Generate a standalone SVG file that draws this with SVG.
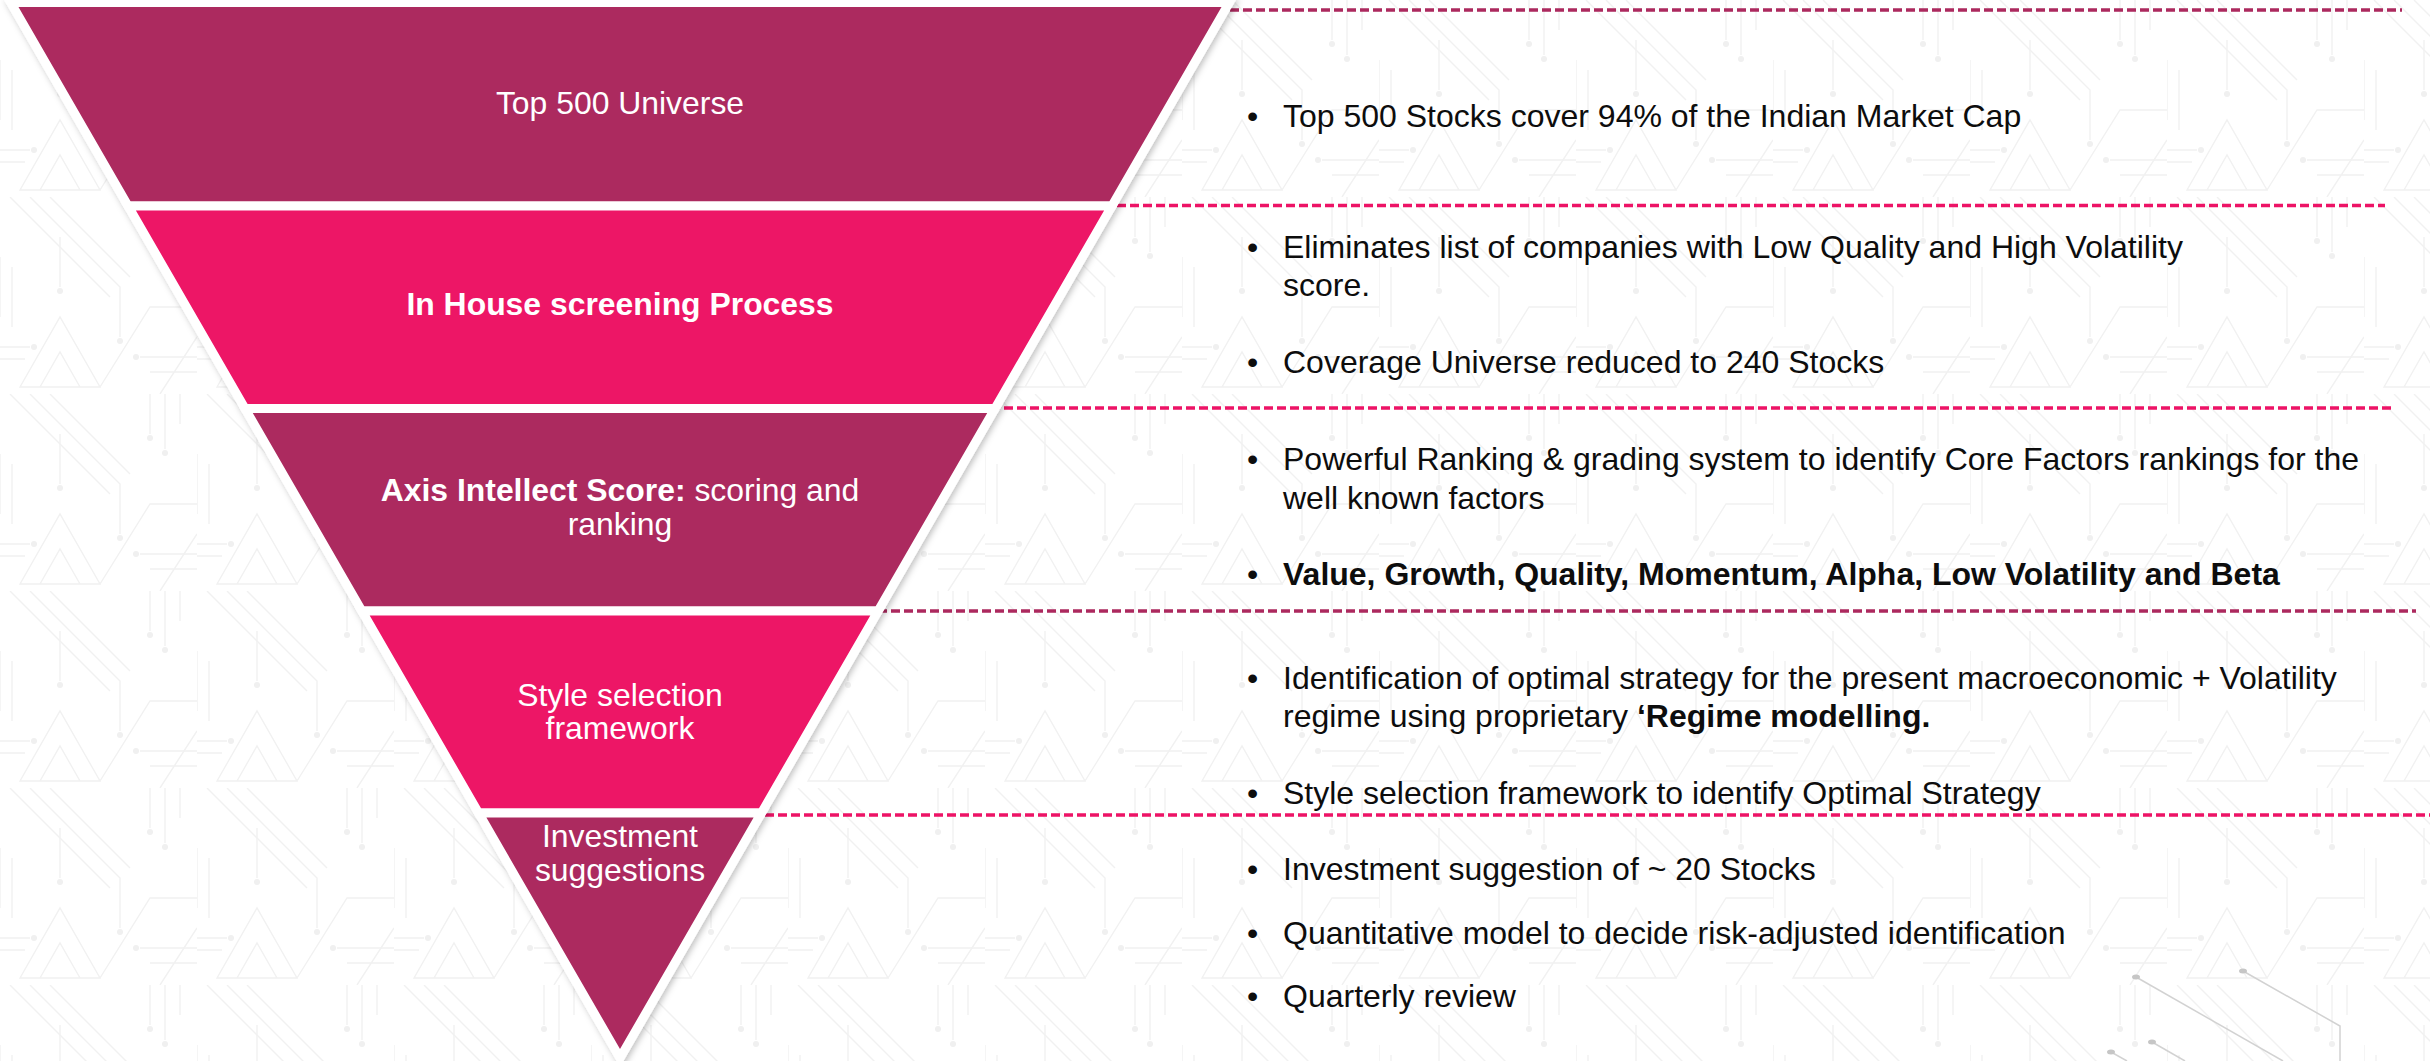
<svg xmlns="http://www.w3.org/2000/svg" width="2430" height="1061" viewBox="0 0 2430 1061">
  <defs>
    <style>
      .band { stroke: #ffffff; stroke-width: 9; stroke-linejoin: miter; }
      .dark { fill: #AC295E; }
      .bright { fill: #ED1366; }
      .lbl { font-family: "Liberation Sans", Arial, sans-serif; font-size: 31.9px; fill: #ffffff; text-anchor: middle; }
      .txt { font-family: "Liberation Sans", Arial, sans-serif; font-size: 32px; fill: #0d0d0d; }
      .b { font-weight: bold; }
      .dash { fill: none; stroke-width: 3.5; stroke-dasharray: 9 4; }
      .dash-dark { stroke: #AC295E; }
      .dash-bright { stroke: #ED1366; }
      .deco { fill: none; stroke: #d2d2d2; stroke-width: 1.5; }
      .dot { fill: #c6c6c6; }
      .pat { fill: none; stroke: #f1f1f1; stroke-width: 1.4; }
      .patdot { fill: #f0f0f0; }
    </style>
    <pattern id="circuit" x="0" y="0" width="197" height="197" patternUnits="userSpaceOnUse">
      <path class="pat" d="M10,0 L110,100 M30,0 L120,90 L120,140 M50,0 L130,80 M150,0 L150,40 M165,0 L165,55 M180,0 L180,30"/>
      <circle class="patdot" cx="150" cy="44" r="3"/>
      <circle class="patdot" cx="165" cy="59" r="3"/>
      <circle class="patdot" cx="120" cy="144" r="3"/>
      <path class="pat" d="M20,190 L60,120 L100,190 Z M40,190 L60,155 L80,190"/>
      <path class="pat" d="M0,150 L30,150 M0,162 L25,162 M140,160 L197,160 M150,175 L197,175"/>
      <circle class="patdot" cx="34" cy="150" r="3"/>
      <circle class="patdot" cx="136" cy="160" r="3"/>
      <path class="pat" d="M100,190 L150,110 L197,110 M160,197 L197,140"/>
      <path class="pat" d="M0,60 L0,120 M12,70 L12,130 M60,40 L60,90"/>
      <circle class="patdot" cx="60" cy="94" r="3"/>
    </pattern>
    <filter id="shadow" x="-5%" y="-5%" width="110%" height="110%">
      <feDropShadow dx="2" dy="2" stdDeviation="3" flood-color="#000000" flood-opacity="0.25"/>
    </filter>
  </defs>

  <rect x="0" y="0" width="2430" height="1061" fill="#ffffff"/>
  <rect x="0" y="0" width="2430" height="1061" fill="url(#circuit)"/>

  <g id="decoration">
    <path class="deco" d="M2136,977 L2283,1061"/>
    <path class="deco" d="M2243,971 L2340,1026 L2340,1061"/>
    <path class="deco" d="M2152,1042 L2185,1061"/>
    <path class="deco" d="M2111,1052 L2127,1061"/>
    <ellipse class="dot" cx="2136" cy="977" rx="4" ry="2.5"/>
    <ellipse class="dot" cx="2243" cy="971" rx="4" ry="2.5"/>
    <ellipse class="dot" cx="2152" cy="1042" rx="4" ry="2.5"/>
    <ellipse class="dot" cx="2111" cy="1052" rx="4" ry="2.5"/>
  </g>

  <g id="connectors">
    <line class="dash dash-dark" x1="1100" y1="10" x2="2402" y2="10"/>
    <line class="dash dash-bright" x1="1000" y1="205.5" x2="2385" y2="205.5"/>
    <line class="dash dash-bright" x1="900" y1="408" x2="2392" y2="408"/>
    <line class="dash dash-dark" x1="800" y1="611" x2="2416" y2="611"/>
    <line class="dash dash-bright" x1="700" y1="815" x2="2430" y2="815"/>
  </g>

  <g id="funnel" filter="url(#shadow)">
    <g id="band-top500">
      <polygon class="band dark" points="10.7,2.5 1229.3,2.5 1111.9,206 128.1,206"/>
    </g>
    <g id="band-inhouse">
      <polygon class="band bright" points="128.1,206 1111.9,206 995,408.5 245,408.5"/>
    </g>
    <g id="band-axis">
      <polygon class="band dark" points="245,408.5 995,408.5 878.1,611 361.9,611"/>
    </g>
    <g id="band-style">
      <polygon class="band bright" points="361.9,611 878.1,611 761.4,813 478.6,813"/>
    </g>
    <g id="band-invest">
      <polygon class="band dark" points="478.6,813 761.4,813 620,1058"/>
    </g>
  </g>

  <g id="labels">
    <text class="lbl" x="620" y="114">Top 500 Universe</text>
    <text class="lbl b" x="620" y="315">In House screening Process</text>
    <text class="lbl" x="620" y="501"><tspan class="b">Axis Intellect Score:</tspan> scoring and</text>
    <text class="lbl" x="620" y="535">ranking</text>
    <text class="lbl" x="620" y="706">Style selection</text>
    <text class="lbl" x="620" y="739">framework</text>
    <text class="lbl" x="620" y="847">Investment</text>
    <text class="lbl" x="620" y="881">suggestions</text>
  </g>

  <g id="notes">
    <g id="note-top500">
      <text class="txt" x="1247" y="127">•</text>
      <text class="txt" x="1283" y="127">Top 500 Stocks cover 94% of the Indian Market Cap</text>
    </g>
    <g id="note-inhouse">
      <text class="txt" x="1247" y="258">•</text>
      <text class="txt" x="1283" y="258">Eliminates list of companies with Low Quality and High Volatility</text>
      <text class="txt" x="1283" y="296">score.</text>
      <text class="txt" x="1247" y="373">•</text>
      <text class="txt" x="1283" y="373">Coverage Universe reduced to 240 Stocks</text>
    </g>
    <g id="note-axis">
      <text class="txt" x="1247" y="470">•</text>
      <text class="txt" x="1283" y="470">Powerful Ranking &amp; grading system to identify Core Factors rankings for the</text>
      <text class="txt" x="1283" y="509">well known factors</text>
      <text class="txt" x="1247" y="585">•</text>
      <text class="txt b" x="1283" y="585">Value, Growth, Quality, Momentum, Alpha, Low Volatility and Beta</text>
    </g>
    <g id="note-style">
      <text class="txt" x="1247" y="689">•</text>
      <text class="txt" x="1283" y="689">Identification of optimal strategy for the present macroeconomic + Volatility</text>
      <text class="txt" x="1283" y="727">regime using proprietary <tspan class="b">‘Regime modelling.</tspan></text>
      <text class="txt" x="1247" y="804">•</text>
      <text class="txt" x="1283" y="804">Style selection framework to identify Optimal Strategy</text>
    </g>
    <g id="note-invest">
      <text class="txt" x="1247" y="880">•</text>
      <text class="txt" x="1283" y="880">Investment suggestion of ~ 20 Stocks</text>
      <text class="txt" x="1247" y="944">•</text>
      <text class="txt" x="1283" y="944">Quantitative model to decide risk-adjusted identification</text>
      <text class="txt" x="1247" y="1007">•</text>
      <text class="txt" x="1283" y="1007">Quarterly review</text>
    </g>
  </g>
</svg>
